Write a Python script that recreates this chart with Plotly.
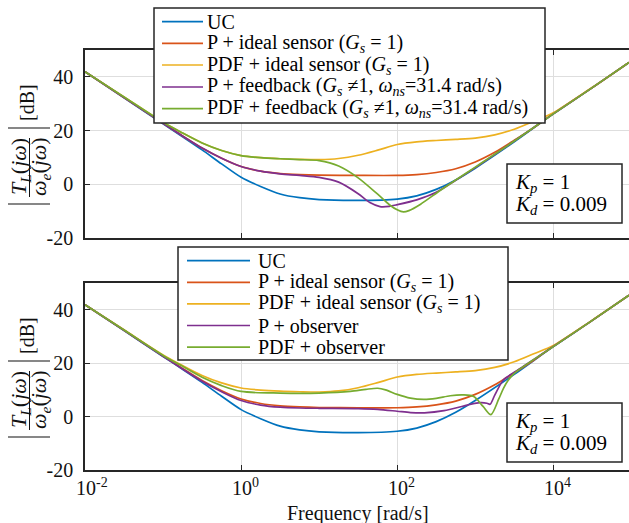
import numpy as np
import plotly.graph_objects as go

# ---------------- data: log10(frequency [rad/s]) and magnitude [dB] ----------------
logw_uc = [-2, -1.5, -1.0, -0.75, -0.5, -0.25, 0, 0.25, 0.5, 0.75, 1.0, 1.5, 2.0, 2.25, 2.5, 2.75, 3.0, 3.5, 4.0, 4.5, 4.97]
db_uc = [41.9, 32.2, 22.5, 17.7, 12.8, 7.6, 2.6, -0.8, -3.6, -5.0, -5.7, -6.0, -5.5, -4.3, -1.9, 1.6, 6.0, 15.8, 26.2, 36.0, 45.4]

logw_p_ideal = [-2, -1.5, -1.0, -0.75, -0.5, -0.25, 0, 0.25, 0.5, 0.75, 1.0, 1.5, 2.0, 2.25, 2.5, 2.75, 3.0, 3.25, 3.5, 3.75, 4.0, 4.5, 4.97]
db_p_ideal = [41.9, 32.3, 22.7, 18.0, 13.5, 9.7, 6.6, 4.9, 4.0, 3.6, 3.4, 3.3, 3.3, 3.6, 4.4, 5.8, 8.3, 11.9, 16.4, 21.1, 26.3, 36.0, 45.4]

logw_pdf_ideal = [-2, -1.5, -1.0, -0.75, -0.5, -0.25, 0, 0.25, 0.5, 0.75, 1.0, 1.25, 1.5, 1.75, 2.0, 2.25, 2.5, 2.75, 3.0, 3.25, 3.5, 3.75, 4.0, 4.5, 4.97]
db_pdf_ideal = [41.9, 32.5, 23.1, 19.1, 15.4, 12.6, 10.7, 9.9, 9.5, 9.3, 9.2, 9.6, 10.8, 12.7, 14.8, 15.8, 16.3, 16.7, 17.2, 18.4, 20.5, 23.5, 26.6, 36.1, 45.4]

logw_p_fb = [-2, -1.5, -1.0, -0.75, -0.5, -0.25, 0, 0.25, 0.5, 0.75, 1.0, 1.25, 1.5, 1.65, 1.78, 1.9, 2.0, 2.25, 2.5, 2.75, 3.0, 3.5, 4.0, 4.5, 4.97]
db_p_fb = [41.9, 32.3, 22.7, 18.0, 13.5, 9.7, 6.6, 4.9, 3.9, 3.3, 2.6, 0.8, -3.5, -6.8, -8.3, -8.2, -7.6, -5.8, -3.0, 1.5, 6.2, 16.1, 26.2, 36.0, 45.4]

logw_pdf_fb = [-2, -1.5, -1.0, -0.75, -0.5, -0.25, 0, 0.25, 0.5, 0.75, 1.0, 1.25, 1.5, 1.75, 1.9, 2.0, 2.08, 2.15, 2.3, 2.55, 2.75, 3.0, 3.5, 4.0, 4.5, 4.97]
db_pdf_fb = [41.9, 32.5, 23.1, 19.1, 15.4, 12.6, 10.7, 9.9, 9.5, 9.2, 8.8, 6.8, 2.4, -3.7, -7.6, -9.5, -10.3, -9.8, -7.4, -2.3, 1.6, 6.4, 16.1, 26.2, 36.0, 45.4]

logw_p_obs = [-2, -1.5, -1.0, -0.75, -0.5, -0.25, 0, 0.25, 0.5, 0.75, 1.0, 1.5, 1.75, 2.0, 2.17, 2.35, 2.6, 2.9, 3.06, 3.15, 3.19, 3.25, 3.36, 3.5, 4.0, 4.5, 4.97]
db_p_obs = [41.9, 32.3, 22.6, 17.8, 13.2, 9.3, 6.0, 4.3, 3.5, 3.2, 3.1, 3.0, 2.7, 2.0, 1.5, 1.4, 2.2, 4.3, 5.2, 5.0, 4.6, 8.0, 13.7, 16.6, 26.2, 36.0, 45.4]

logw_pdf_obs = [-2, -1.5, -1.0, -0.75, -0.5, -0.25, 0, 0.5, 1.0, 1.4, 1.6, 1.75, 1.85, 2.0, 2.17, 2.34, 2.5, 2.68, 2.85, 2.98, 3.1, 3.2, 3.3, 3.36, 3.42, 3.5, 4.0, 4.5, 4.97]
db_pdf_obs = [41.9, 32.4, 22.9, 18.8, 14.7, 11.6, 9.4, 8.8, 8.8, 9.4, 10.2, 10.6, 10.0, 8.3, 6.9, 6.4, 6.8, 7.8, 8.1, 7.5, 3.8, 0.7, 6.5, 10.5, 13.5, 16.2, 26.2, 36.0, 45.4]

legend_top = [
    "UC",
    "P + ideal sensor (<i>G<sub>s</sub></i> = 1)",
    "PDF + ideal sensor (<i>G<sub>s</sub></i> = 1)",
    "P + feedback (<i>G<sub>s</sub></i> ≠1, <i>ω<sub>ns</sub></i>=31.4 rad/s)",
    "PDF + feedback (<i>G<sub>s</sub></i> ≠1, <i>ω<sub>ns</sub></i>=31.4 rad/s)",
]
legend_bottom = [
    "UC",
    "P + ideal sensor (<i>G<sub>s</sub></i> = 1)",
    "PDF + ideal sensor (<i>G<sub>s</sub></i> = 1)",
    "P + observer",
    "PDF + observer",
]
x_ticks = [1e-2, 1e0, 1e2, 1e4]
x_tick_text = ["10<sup>-2</sup>", "10<sup>0</sup>", "10<sup>2</sup>", "10<sup>4</sup>"]
y_ticks = [-20, 0, 20, 40]
y_tick_text = ["-20", "0", "20", "40"]

colors = ["#0072BD", "#D95319", "#EDB120", "#7E2F8E", "#77AC30"]

W, H = 629, 523
FONT = "Liberation Serif"
AX = "#262626"


def X(px):
    return px / W


def Y(py):
    return 1 - py / H


fig = go.Figure()

top_series = [
    (logw_uc, db_uc), (logw_p_ideal, db_p_ideal), (logw_pdf_ideal, db_pdf_ideal),
    (logw_p_fb, db_p_fb), (logw_pdf_fb, db_pdf_fb),
]
bottom_series = [
    (logw_uc, db_uc), (logw_p_ideal, db_p_ideal), (logw_pdf_ideal, db_pdf_ideal),
    (logw_p_obs, db_p_obs), (logw_pdf_obs, db_pdf_obs),
]

for (lw, db), name, c in zip(top_series, legend_top, colors):
    fig.add_trace(go.Scatter(
        x=10 ** np.array(lw), y=db, mode="lines", name=name, showlegend=False,
        line=dict(color=c, width=1.7, shape="spline", smoothing=0.8),
        xaxis="x", yaxis="y"))
for (lw, db), name, c in zip(bottom_series, legend_bottom, colors):
    fig.add_trace(go.Scatter(
        x=10 ** np.array(lw), y=db, mode="lines", name=name, showlegend=False,
        line=dict(color=c, width=1.7, shape="spline", smoothing=0.8),
        xaxis="x2", yaxis="y2"))

x_dom = [X(85), 1.0]
top_dom = [Y(238), Y(50)]
bot_dom = [Y(470), Y(283)]

xcommon = dict(type="log", range=[-2, 4.97], domain=x_dom, tickvals=x_ticks,
               showticklabels=False, ticks="inside", ticklen=5, tickcolor=AX, tickwidth=1,
               showgrid=True, gridcolor="#dedede", gridwidth=1, showline=True,
               linecolor=AX, linewidth=1.5, mirror="ticks", zeroline=False)
ycommon = dict(range=[-20, 50], tickvals=y_ticks, ticktext=y_tick_text,
               ticks="inside", ticklen=5, tickcolor=AX, tickwidth=1,
               showgrid=True, gridcolor="#dedede", gridwidth=1, showline=True,
               linecolor=AX, linewidth=1.5, mirror=False, zeroline=False,
               tickfont=dict(family=FONT, size=20, color="#111"), ticklabelstandoff=6)

fig.update_layout(
    width=W, height=H, margin=dict(l=0, r=0, t=0, b=0, autoexpand=False),
    paper_bgcolor="white", plot_bgcolor="white",
    xaxis=dict(anchor="y", **xcommon),
    yaxis=dict(anchor="x", domain=top_dom, **ycommon),
    xaxis2=dict(anchor="y2", **xcommon),
    yaxis2=dict(anchor="x2", domain=bot_dom, **ycommon),
)

shapes = []
annotations = []

# x tick labels under the lower axes (base "10" centred on the tick)
for v, t in zip(x_ticks, x_tick_text):
    annotations.append(dict(x=np.log10(v), xref="x2", y=Y(487), yref="paper", text=t,
                            showarrow=False, xanchor="left", yanchor="middle", xshift=-11,
                            font=dict(family=FONT, size=20, color="#111")))
annotations.append(dict(x=X(358), y=Y(513), xref="paper", yref="paper",
                        text="Frequency [rad/s]", showarrow=False,
                        xanchor="center", yanchor="middle",
                        font=dict(family=FONT, size=20, color="#111")))

# y-axis label |T_L(jω)/ω_e(jω)| [dB] for each panel
for dy in (0, 233):
    annotations.append(dict(x=X(20), y=Y(167 + dy), xref="paper", yref="paper",
                            text="<i>T<sub>L</sub></i>(<i>jω</i>)", textangle=-90, showarrow=False,
                            xanchor="center", yanchor="middle",
                            font=dict(family=FONT, size=22, color="#111")))
    annotations.append(dict(x=X(40), y=Y(167 + dy), xref="paper", yref="paper",
                            text="<i>ω<sub>e</sub></i>(<i>jω</i>)", textangle=-90, showarrow=False,
                            xanchor="center", yanchor="middle",
                            font=dict(family=FONT, size=22, color="#111")))
    annotations.append(dict(x=X(27), y=Y(103 + dy), xref="paper", yref="paper",
                            text="[dB]", textangle=-90, showarrow=False,
                            xanchor="center", yanchor="middle",
                            font=dict(family=FONT, size=20, color="#111")))
    shapes.append(dict(type="line", xref="paper", yref="paper", x0=X(29.5), x1=X(29.5),
                       y0=Y(138 + dy), y1=Y(197 + dy), line=dict(color="#111", width=1)))
    for yb in (128, 204):
        shapes.append(dict(type="line", xref="paper", yref="paper", x0=X(8), x1=X(50),
                           y0=Y(yb + dy), y1=Y(yb + dy), line=dict(color="#111", width=1.2)))


def legend_box(left, top, right, bottom, rows, labels, x0, x1, xt):
    shapes.append(dict(type="rect", xref="paper", yref="paper", x0=X(left), x1=X(right),
                       y0=Y(bottom), y1=Y(top), fillcolor="white",
                       line=dict(color=AX, width=1.5), layer="above"))
    for ry, lab, c in zip(rows, labels, colors):
        shapes.append(dict(type="line", xref="paper", yref="paper", x0=X(x0), x1=X(x1),
                           y0=Y(ry), y1=Y(ry), line=dict(color=c, width=1.7), layer="above"))
        annotations.append(dict(x=X(xt), y=Y(ry), xref="paper", yref="paper", text=lab,
                                showarrow=False, xanchor="left", yanchor="middle",
                                font=dict(family=FONT, size=20, color="#000")))


legend_box(154, 8, 545, 123, [21.7, 43.3, 65, 87, 108.7], legend_top, 162, 203, 205)
legend_box(178, 247, 508, 360, [260.7, 282.3, 303.8, 325.5, 347.2], legend_bottom, 187, 250, 256)

# gain annotation boxes
for dy in (0, 239):
    shapes.append(dict(type="rect", xref="paper", yref="paper", x0=X(507), x1=X(622),
                       y0=Y(223 + dy), y1=Y(164 + dy), fillcolor="white",
                       line=dict(color=AX, width=1.5), layer="above"))
    annotations.append(dict(x=X(513), y=Y(182.5 + dy), xref="paper", yref="paper",
                            text="<i>K<sub>p</sub></i> = 1", showarrow=False,
                            xanchor="left", yanchor="middle",
                            font=dict(family=FONT, size=21, color="#000")))
    annotations.append(dict(x=X(513), y=Y(205 + dy), xref="paper", yref="paper",
                            text="<i>K<sub>d</sub></i> = 0.009", showarrow=False,
                            xanchor="left", yanchor="middle",
                            font=dict(family=FONT, size=21, color="#000")))

fig.update_layout(shapes=shapes, annotations=annotations)
fig.write_html("out.html")
